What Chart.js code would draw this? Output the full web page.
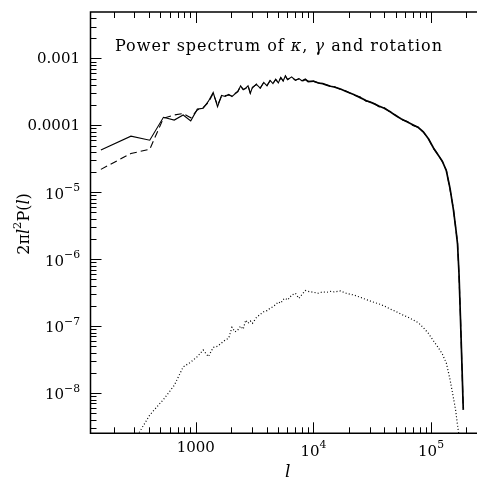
<!DOCTYPE html>
<html>
<head>
<meta charset="utf-8">
<script src="https://cdn.jsdelivr.net/npm/chart.js@4.4.1/dist/chart.umd.min.js"></script>
<style>
  html, body { margin: 0; padding: 0; overflow: hidden; background: #fff; }
  canvas { display: block; }
</style>
</head>
<body>
<canvas id="c" width="477" height="481"></canvas>
<script>
// multipole l of each bin
var ells = [156, 281, 406, 531, 656, 781, 906, 1031, 1156, 1281,
  1406, 1531, 1656, 1781, 1906, 2031, 2156, 2281, 2406, 2531,
  2656, 2781, 2906, 3031, 3281, 3531, 3781, 4031, 4281, 4531,
  4781, 5031, 5281, 5531, 5781, 6031, 6531, 7031, 7531, 8031,
  8531, 9031, 10000, 11000, 12000, 13000, 14000, 15000, 17000, 19000,
  22000, 25000, 28000, 32000, 36000, 40000, 45000, 50000, 56000, 63000,
  70000, 78000, 86000, 95000, 105000, 115000, 125000, 135000, 145000, 155000,
  162000, 168000, 173000, 178000, 183000, 188000];

// 2 pi l^2 P(l), convergence (solid)
var kappa = [4.3e-5, 6.9e-5, 6.0e-5, 1.32e-4, 1.2e-4, 1.43e-4, 1.17e-4, 1.75e-4, 1.8e-4, 2.3e-4,
  3.1e-4, 1.9e-4, 2.8e-4, 2.7e-4, 2.9e-4, 2.7e-4, 2.95e-4, 3.2e-4, 3.9e-4, 3.4e-4,
  3.6e-4, 3.9e-4, 3.0e-4, 3.7e-4, 4.1e-4, 3.6e-4, 4.4e-4, 3.9e-4, 4.7e-4, 4.2e-4,
  4.9e-4, 4.3e-4, 5.2e-4, 4.6e-4, 5.5e-4, 4.8e-4, 5.3e-4, 4.7e-4, 5.0e-4, 4.6e-4,
  4.9e-4, 4.5e-4, 4.6e-4, 4.3e-4, 4.2e-4, 4.0e-4, 3.85e-4, 3.75e-4, 3.5e-4, 3.2e-4,
  2.9e-4, 2.6e-4, 2.35e-4, 2.15e-4, 1.95e-4, 1.8e-4, 1.6e-4, 1.4e-4, 1.25e-4, 1.12e-4,
  1.02e-4, 9.3e-5, 8.0e-5, 6.3e-5, 4.6e-5, 3.6e-5, 2.9e-5, 2.1e-5, 1.15e-5, 5.5e-6,
  3.0e-6, 1.7e-6, 6.0e-7, 1.3e-7, 2.8e-8, 5.6e-9];

// shear (dashed)
var gamma = [2.2e-5, 3.8e-5, 4.4e-5, 1.28e-4, 1.43e-4, 1.5e-4, 1.3e-4, 1.7e-4, 1.85e-4, 2.2e-4,
  3.0e-4, 2.0e-4, 2.75e-4, 2.8e-4, 2.85e-4, 2.75e-4, 3.0e-4, 3.25e-4, 3.85e-4, 3.45e-4,
  3.55e-4, 3.95e-4, 3.05e-4, 3.65e-4, 4.15e-4, 3.6e-4, 4.35e-4, 3.95e-4, 4.65e-4, 4.25e-4,
  4.85e-4, 4.35e-4, 5.15e-4, 4.65e-4, 5.45e-4, 4.85e-4, 5.25e-4, 4.75e-4, 4.95e-4, 4.65e-4,
  4.85e-4, 4.55e-4, 4.55e-4, 4.35e-4, 4.15e-4, 4.05e-4, 3.8e-4, 3.8e-4, 3.45e-4, 3.25e-4,
  2.85e-4, 2.65e-4, 2.3e-4, 2.2e-4, 1.9e-4, 1.85e-4, 1.57e-4, 1.43e-4, 1.22e-4, 1.14e-4,
  1.0e-4, 9.4e-5, 7.9e-5, 6.4e-5, 4.5e-5, 3.65e-5, 2.85e-5, 2.15e-5, 1.1e-5, 5.7e-6,
  2.9e-6, 1.8e-6, 5.6e-7, 1.4e-7, 2.6e-8, 6.0e-9];

// rotation (dotted)
var rotation = [null, 1.6e-9, 4.7e-9, 8.0e-9, 1.3e-8, 2.45e-8, 2.9e-8, 3.5e-8, 4.4e-8, 3.5e-8,
  4.8e-8, 5.0e-8, 5.6e-8, 6.2e-8, 6.6e-8, 9.6e-8, 8.2e-8, 8.8e-8, 1.0e-7, 9.0e-8,
  1.23e-7, 1.1e-7, 1.2e-7, 1.1e-7, 1.35e-7, 1.5e-7, 1.64e-7, 1.7e-7, 1.85e-7, 1.95e-7,
  2.1e-7, 2.3e-7, 2.2e-7, 2.5e-7, 2.6e-7, 2.45e-7, 2.9e-7, 3.1e-7, 2.6e-7, 3.0e-7,
  3.4e-7, 3.3e-7, 3.2e-7, 3.1e-7, 3.25e-7, 3.2e-7, 3.3e-7, 3.25e-7, 3.35e-7, 3.1e-7,
  2.92e-7, 2.7e-7, 2.5e-7, 2.3e-7, 2.15e-7, 2.0e-7, 1.8e-7, 1.66e-7, 1.5e-7, 1.37e-7,
  1.25e-7, 1.12e-7, 9.5e-8, 7.8e-8, 6.0e-8, 4.8e-8, 3.8e-8, 2.8e-8, 1.6e-8, 8.5e-9,
  5.5e-9, 3.3e-9, 2.3e-9, null, null, null];

var xTicks = [1000, 1e4, 1e5];
var xTickLabels = [["1000", ""], ["10", "4"], ["10", "5"]];
var yTicks = [1e-3, 1e-4, 1e-5, 1e-6, 1e-7, 1e-8];
var yTickLabels = [["0.001", ""], ["0.0001", ""], ["10", "\u22125"], ["10", "\u22126"], ["10", "\u22127"], ["10", "\u22128"]];

var SERIF = "'DejaVu Serif', serif";

function pts(vals) {
  var out = [];
  for (var i = 0; i < ells.length; i++) out.push({ x: ells[i], y: vals[i] });
  return out;
}

function seg(ctx, x1, y1, x2, y2) {
  ctx.beginPath(); ctx.moveTo(x1, y1); ctx.lineTo(x2, y2); ctx.stroke();
}

// pieces are [text, italic, superscript]
function runWidth(ctx, parts, size) {
  var w = 0;
  parts.forEach(function(p) {
    ctx.font = (p[1] ? "italic " : "") + (p[2] ? size * 0.72 : size) + "px " + SERIF;
    w += ctx.measureText(p[0]).width;
  });
  return w;
}
function drawRun(ctx, parts, x, y, size) {
  parts.forEach(function(p) {
    ctx.font = (p[1] ? "italic " : "") + (p[2] ? size * 0.72 : size) + "px " + SERIF;
    ctx.fillText(p[0], x, p[2] ? y - size * 0.45 : y);
    x += ctx.measureText(p[0]).width;
  });
}

// the noisy high-l part of the solid curve looks heavier
function thickAtHighL(c) {
  return c.p0.parsed.x > 8000 ? 1.7 : 1.1;
}

var framePlugin = {
  id: "frame",
  afterDatasetsDraw: function(chart) {
    var ctx = chart.ctx, a = chart.chartArea;
    var xs = chart.scales.x, ys = chart.scales.y;
    ctx.save();
    ctx.strokeStyle = "#000";
    ctx.fillStyle = "#000";
    ctx.lineWidth = 1;

    var e, m, v, p, len;
    for (e = 2; e <= 5; e++) {
      for (m = 1; m <= 9; m++) {
        v = m * Math.pow(10, e);
        if (v < xs.min || v > xs.max) continue;
        p = Math.round(xs.getPixelForValue(v)) + 0.5;
        len = m === 1 ? 11 : 6;
        seg(ctx, p, a.bottom, p, a.bottom - len);
        seg(ctx, p, a.top, p, a.top + len);
      }
    }
    for (e = -9; e <= -3; e++) {
      for (m = 1; m <= 9; m++) {
        v = m * Math.pow(10, e);
        if (v < ys.min || v > ys.max) continue;
        p = Math.round(ys.getPixelForValue(v)) + 0.5;
        len = m === 1 ? 11 : 6;
        seg(ctx, a.left, p, a.left + len, p);
      }
    }

    // frame: left, top, bottom (right side lies past the picture edge)
    ctx.lineWidth = 1.5;
    ctx.beginPath();
    ctx.moveTo(a.right + 5, a.top);
    ctx.lineTo(a.left, a.top);
    ctx.lineTo(a.left, a.bottom);
    ctx.lineTo(a.right + 5, a.bottom);
    ctx.stroke();

    // tick labels
    ctx.textBaseline = "middle";
    ctx.textAlign = "left";
    xTicks.forEach(function(t, i) {
      var lab = xTickLabels[i];
      var parts = [[lab[0], false, false]];
      if (lab[1]) parts.push([lab[1], false, true]);
      var w = runWidth(ctx, parts, 15);
      var px = xs.getPixelForValue(t);
      drawRun(ctx, parts, px - w / 2, lab[1] ? 452 : 448.5, 15);
    });
    yTicks.forEach(function(t, i) {
      var lab = yTickLabels[i];
      var parts = [[lab[0], false, false]];
      if (lab[1]) parts.push([lab[1], false, true]);
      var w = runWidth(ctx, parts, 15);
      var py = ys.getPixelForValue(t);
      drawRun(ctx, parts, 80 - w, py + (lab[1] ? 2.5 : 1), 15);
    });

    // title inside the frame
    ctx.letterSpacing = "1px";
    drawRun(ctx, [["Power spectrum of ", false, false], ["\u03ba", true, false], [", ", false, false],
      ["\u03b3", true, false], [" and rotation", false, false]], 115, 46.5, 16);
    ctx.letterSpacing = "0px";

    // axis titles
    drawRun(ctx, [["l", true, false]], 285, 472.5, 17);
    ctx.translate(25, 224);
    ctx.rotate(-Math.PI / 2);
    var yt = [["2\u03c0", false, false], ["l", true, false], ["2", false, true], ["P(", false, false], ["l", true, false], [")", false, false]];
    drawRun(ctx, yt, -runWidth(ctx, yt, 16) / 2, 0, 16);
    ctx.restore();
  }
};

new Chart(document.getElementById("c"), {
  type: "line",
  data: {
    datasets: [
      { label: "rotation", data: pts(rotation), borderColor: "#000", borderWidth: 1.2, borderDash: [1, 2.2] },
      { label: "gamma", data: pts(gamma), borderColor: "#000", borderWidth: 1.1, borderDash: [7, 4] },
      { label: "kappa", data: pts(kappa), borderColor: "#000", borderWidth: 1.1, segment: { borderWidth: thickAtHighL } }
    ]
  },
  options: {
    responsive: false,
    animation: false,
    events: [],
    elements: { point: { radius: 0 }, line: { tension: 0 } },
    layout: { padding: { left: 0, right: 0, top: 12, bottom: 0 } },
    plugins: { legend: { display: false }, tooltip: { enabled: false } },
    scales: {
      x: {
        type: "logarithmic", bounds: "data", min: 127.3, max: 246000,
        grid: { display: false }, border: { display: false }, ticks: { display: false },
        afterFit: function(s) { s.height = 47.7; }
      },
      y: {
        type: "logarithmic", bounds: "data", min: 2.5e-9, max: 4.95e-3,
        grid: { display: false }, border: { display: false }, ticks: { display: false },
        afterFit: function(s) { s.width = 90.5; }
      }
    }
  },
  plugins: [framePlugin]
});
</script>
</body>
</html>
